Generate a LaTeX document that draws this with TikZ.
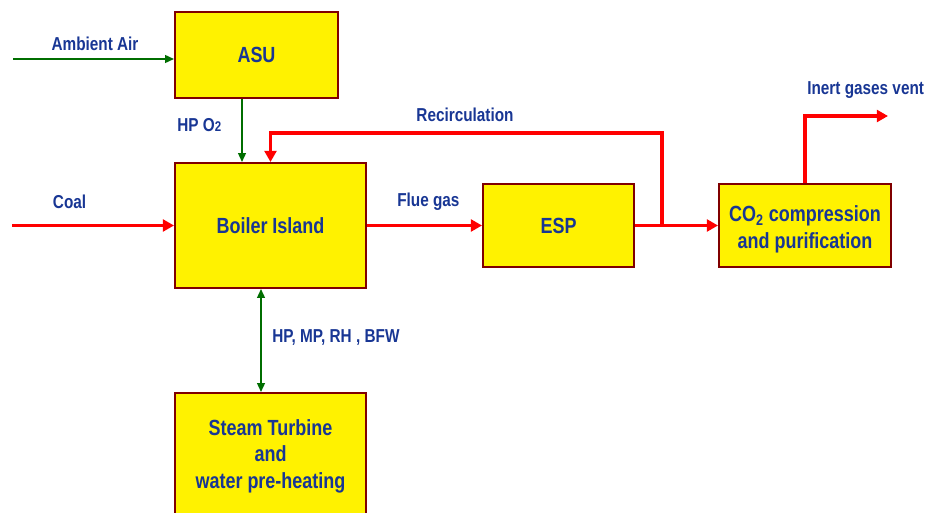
\documentclass[tikz,border=0pt]{standalone}
\usepackage{fontspec}
\setmainfont{Liberation Sans}[FakeStretch=0.82]
\usetikzlibrary{arrows.meta, calc}

\definecolor{txtblue}{RGB}{24,54,148}
\definecolor{boxedge}{RGB}{128,0,0}
\definecolor{flowgreen}{RGB}{0,110,0}

\begin{document}
\begin{tikzpicture}[
    blockbox/.style={draw=boxedge, fill=yellow, line width=1.4pt, text=txtblue,
        font=\fontsize{15.6}{18.8}\selectfont\bfseries, align=center, inner sep=0pt},
    lbl/.style={text=txtblue, font=\fontsize{13.3}{15}\selectfont\bfseries, inner sep=0pt},
    redflow/.style={red, line width=2.8pt, -{Triangle[length=8pt,width=8.5pt]}},
    greenflow/.style={flowgreen, line width=1.2pt, -{Triangle[length=6.4pt,width=5.6pt]}}
    ]
        \useasboundingbox (0,0) rectangle (23.125,-12.825);

        % 블록
        \node[blockbox, minimum width=4.075cm, minimum height=2.15cm] (asu) at (6.4125,-1.375) {ASU};
        \node[blockbox, minimum width=4.775cm, minimum height=3.125cm] (boiler) at (6.7625,-5.6375) {Boiler Island};
        \node[blockbox, minimum width=4.775cm, minimum height=3.15cm] (steam) at (6.7625,-11.4) {Steam Turbine\\and\\water pre-heating};
        \node[blockbox, minimum width=3.775cm, minimum height=2.075cm] (esp) at (13.9625,-5.6375) {ESP};
        \node[blockbox, minimum width=4.3cm, minimum height=2.075cm] (co2) at (20.125,-5.6375) {\raisebox{-2.8pt}[\height][\depth]{\shortstack{CO\textsubscript{2} compression\\[1.5pt]and purification}}};

        % 보조 좌표
        \coordinate (airin) at (0.325,-1.475);
        \coordinate (coalin) at (0.3,-5.6375);
        \coordinate (o2x) at (6.05,0);
        \coordinate (stx) at (6.525,0);
        \coordinate (split) at (16.55,-5.6375);
        \coordinate (rectop) at (16.55,-3.325);
        \coordinate (ventend) at (22.2,-2.9);

        % 녹색 흐름
        \draw[greenflow] (airin) -- (airin -| asu.west);
        \draw[greenflow] (asu.south -| o2x) -- (boiler.north -| o2x);
        \draw[greenflow, {Triangle[length=6.4pt,width=5.6pt]}-{Triangle[length=6.4pt,width=5.6pt]}] (boiler.south -| stx) -- (steam.north -| stx);

        % 적색 흐름
        \draw[redflow] (coalin) -- (boiler);
        \draw[redflow] (boiler) -- (esp);
        \draw[redflow] (esp) -- (co2);
        \draw[redflow] (split) -- (rectop) -| (boiler.north);
        \draw[redflow] (co2.north) |- (ventend);

        % 레이블
        \node[lbl] (airlbl) at (2.375,-1.1) {Ambient Air};
        \node[lbl, anchor=west] (o2lbl) at (4.425,-3.125) {HP O{\fontsize{10}{12}\selectfont 2}};
        \node[lbl] (reclbl) at (11.625,-2.875) {Recirculation};
        \node[lbl] (coallbl) at (1.74,-5.05) {Coal};
        \node[lbl] (fluelbl) at (10.71,-5.05) {Flue gas};
        \node[lbl, anchor=west] (ventlbl) at (20.175,-2.25) {Inert gases vent};
        \node[lbl, anchor=west] (steamlbl) at (6.8,-8.45) {HP, MP, RH , BFW};
    \end{tikzpicture}
\end{document}
